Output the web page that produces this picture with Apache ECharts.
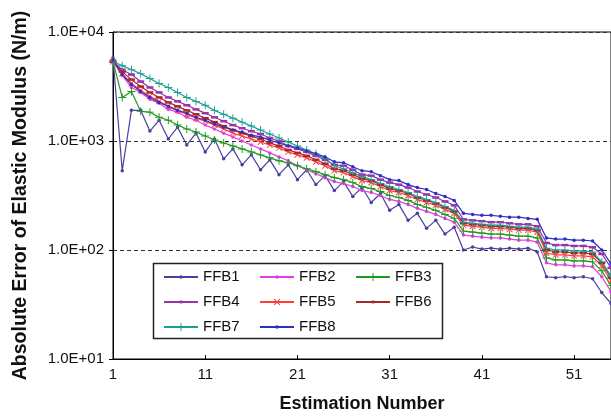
<!DOCTYPE html>
<html>
<head>
<meta charset="utf-8">
<script src="https://cdn.jsdelivr.net/npm/echarts@6/dist/echarts.min.js"></script>
<style>
  html, body { margin: 0; padding: 0; background: #fff; }
  #chart { width: 611px; height: 418px; }
</style>
</head>
<body>
<div id="chart"></div>
<script>
// Estimation steps 1..55
const categories = [];
for (let i = 1; i <= 55; i++) categories.push(String(i));

// Absolute error of elastic modulus (N/m) for each estimator
const FFB1 = [5800,534,1910,1910,1233,1552,1043,1341,920,1182,794,1043,686,846,605,746,545,672,491,605,442,545,398,481,351,424,310,374,273,330,231,262,187,217,158,187,140,162,100,106.5,102,104,102,104,102,104,95.9,56.8,55.7,56.8,55.7,56.8,54.5,40.7,32.3];
const FFB2 = [5340,3980,3100,2790,2410,2220,1950,1840,1650,1550,1400,1290,1180,1090,1000,920,846,778,715,658,593,545,501,461,424,407,382,351,337,316,291,279,262,241,226,212,195,180,137,134,131,129,129,126,123,123,118,76.2,73.1,73.1,71.5,71.5,70.1,56.8,41.5];
const FFB3 = [5340,2510,2850,1870,1840,1650,1550,1400,1290,1210,1110,1020,959,901,846,794,746,701,658,631,593,557,523,491,461,442,415,382,366,344,316,303,285,262,246,231,212,195,149,146,143,140,140,137,134,134,129,84.6,81.1,81.1,79.4,79.4,77.8,64.4,47.1];
const FFB4 = [5340,4510,4070,3510,3100,2790,2510,2310,2130,1950,1800,1650,1520,1400,1310,1230,1160,1065,1000,901,846,794,731,672,605,593,545,491,481,442,415,398,374,344,323,303,279,257,191,187,184,180,180,176,172,172,165,116,111,111,109,109,106,92,68.6];
const FFB5 = [5340,4150,3370,2910,2570,2310,2080,1910,1760,1620,1520,1400,1290,1180,1110,1043,979,920,864,794,746,701,644,593,534,512,471,433,415,382,351,337,316,291,273,257,236,217,169,165,162,158,158,155,152,152,146,93.9,90.1,90.1,88.2,88.2,86.4,71.5,52.3];
const FFB6 = [5340,4330,3660,3160,2790,2510,2260,2080,1910,1760,1620,1490,1370,1260,1180,1110,1043,959,901,828,778,731,672,618,557,534,491,451,433,398,366,351,330,303,285,268,246,226,176,172,169,165,165,162,158,158,152,100,95.9,95.9,93.9,93.9,92,76.2,55.7];
const FFB7 = [5340,4910,4510,4150,3740,3370,3100,2790,2510,2310,2130,1910,1760,1620,1490,1370,1260,1160,1065,979,901,828,762,686,593,557,512,471,442,407,382,359,337,310,291,273,251,231,180,176,172,169,169,165,162,162,155,104,100,100,97.9,97.9,95.9,77.8,58];
const FFB8 = [5570,4070,3300,2850,2510,2260,2080,1910,1800,1650,1550,1430,1340,1260,1210,1130,1090,1020,959,901,864,811,762,715,644,631,580,534,523,481,442,433,398,374,359,330,310,285,217,212,208,208,204,200,200,195,191,129,126,126,123,123,121,100,74.6];

const yTicks = [10, 100, 1000, 10000];
const seriesNames = ['FFB1','FFB2','FFB3','FFB4','FFB5','FFB6','FFB7','FFB8'];
const seriesData = [FFB1, FFB2, FFB3, FFB4, FFB5, FFB6, FFB7, FFB8];

// marker shapes: thin plus (rotated for the cross), short dash, small dot
const PLUS = 'path://M4.4,0H5.6V4.4H10V5.6H5.6V10H4.4V5.6H0V4.4H4.4Z';
const styles = {
  FFB1: { color: '#4b40a0', symbol: 'circle', size: 3.5, key: 4.5 },
  FFB2: { color: '#e040e0', symbol: 'circle', size: 3.5, key: 4.5 },
  FFB3: { color: '#1f9a1f', symbol: PLUS, size: 8, key: 10 },
  FFB4: { color: '#9a32aa', symbol: 'rect', size: [7, 2.5], key: 3.5 },
  FFB5: { color: '#ff3c3c', symbol: PLUS, size: 8, rotate: 45, key: 10 },
  FFB6: { color: '#a52a2a', symbol: 'rect', size: [7, 2.5], key: 3.5 },
  FFB7: { color: '#1aa092', symbol: PLUS, size: 8, key: 10 },
  FFB8: { color: '#2d2dc8', symbol: 'circle', size: 3.5, key: 4.5 }
};

const font = "'Liberation Sans', Arial, sans-serif";

const chart = echarts.init(document.getElementById('chart'), null, { renderer: 'canvas' });

const series = seriesNames.map((name, k) => {
  const s = styles[name];
  return {
    name: name,
    type: 'line',
    data: seriesData[k],
    symbol: s.symbol,
    symbolSize: s.size,
    symbolRotate: s.rotate || 0,
    showAllSymbol: true,
    lineStyle: { color: s.color, width: 1.2 },
    itemStyle: { color: s.color },
    emphasis: { disabled: true },
    animation: false
  };
});

// one legend entry per estimator, laid out in a 3-column grid
const legendCols = [163, 259, 355];
const legendRowsY = [275, 300, 325];
const legends = seriesNames.map((name, k) => {
  const s = styles[name];
  const col = k % 3, row = Math.floor(k / 3);
  return {
    data: [name],
    left: legendCols[col] - 5,
    top: legendRowsY[row] - 12,
    orient: 'horizontal',
    itemWidth: 34,
    itemHeight: s.key,
    textStyle: { fontFamily: font, fontSize: 15, color: '#111', lineHeight: 18 },
    selectedMode: false
  };
});

chart.setOption({
  backgroundColor: '#fff',
  animation: false,
  grid: {
    left: 113, top: 32, width: 506, height: 330,
    show: true, borderColor: '#000', borderWidth: 1, backgroundColor: 'transparent'
  },
  legend: legends,
  graphic: [{
    type: 'rect',
    shape: { x: 153.5, y: 263.5, width: 289, height: 75 },
    style: { fill: '#fff', stroke: '#222', lineWidth: 1.5 },
    z: 1
  }],
  xAxis: {
    type: 'category',
    data: categories,
    boundaryGap: false,
    name: 'Estimation Number',
    nameLocation: 'middle',
    nameGap: 36,
    nameTextStyle: { fontFamily: font, fontSize: 18, fontWeight: 'bold', color: '#111' },
    axisLine: { lineStyle: { color: '#000', width: 1 } },
    axisTick: { show: true, inside: true, length: 4, interval: 9, lineStyle: { color: '#000' } },
    axisLabel: { interval: 9, margin: 8, fontFamily: font, fontSize: 15, color: '#111' },
    splitLine: { show: false }
  },
  yAxis: {
    type: 'log',
    logBase: 10,
    min: yTicks[0],
    max: yTicks[yTicks.length - 1],
    name: 'Absolute Error of Elastic Modulus (N/m)',
    nameLocation: 'middle',
    nameGap: 82,
    nameTextStyle: { fontFamily: font, fontSize: 19.5, fontWeight: 'bold', color: '#111' },
    axisLine: { show: true, lineStyle: { color: '#000', width: 1 } },
    axisTick: { show: true, length: 4, lineStyle: { color: '#000' } },
    axisLabel: {
      margin: 9, fontFamily: font, fontSize: 15, color: '#111',
      formatter: v => '1.0E+' + String(Math.round(Math.log10(v))).padStart(2, '0')
    },
    splitLine: { show: true, lineStyle: { color: '#333', type: [4, 3], width: 1 } },
    minorTick: { show: false }
  },
  series: series
});
</script>
</body>
</html>
